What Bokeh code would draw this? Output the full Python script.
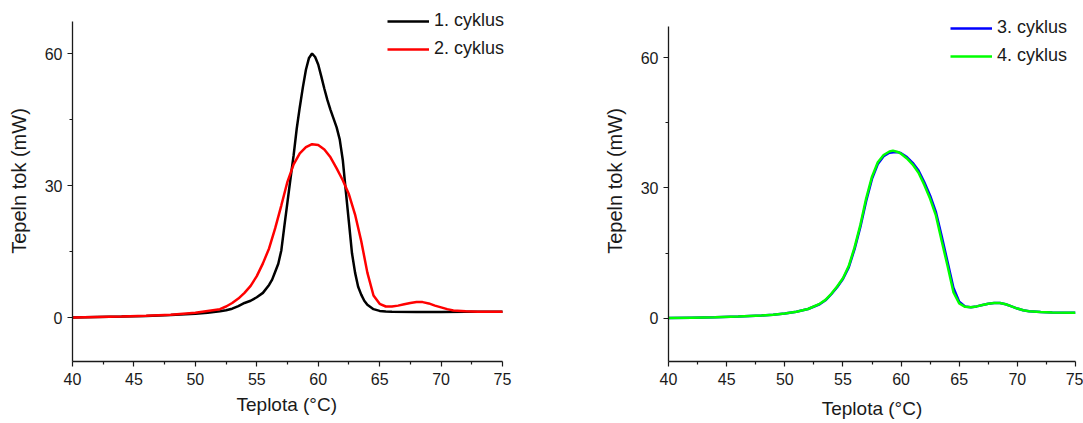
from bokeh.plotting import figure
from bokeh.layouts import row
from bokeh.models import FixedTicker, Legend, LegendItem, Title
from bokeh.embed import file_html
from bokeh.resources import INLINE

# ---------------- data ----------------
t1 = [40, 42, 44, 46, 48, 50, 51, 52, 52.5, 53, 53.5, 54, 54.5, 55, 55.5, 56, 56.25, 56.5, 56.75,
      57, 57.25, 57.5, 57.75, 58, 58.25, 58.5, 58.75, 59, 59.25, 59.5, 59.75, 60, 60.25, 60.5,
      60.75, 61, 61.25, 61.5, 61.75, 62, 62.25, 62.5, 62.75, 63, 63.25, 63.5, 63.75, 64, 64.5,
      65, 65.5, 66, 68, 70, 72, 75]
c1 = [0, 0.1, 0.2, 0.35, 0.55, 0.85, 1.1, 1.4, 1.65, 2.0, 2.6, 3.3, 3.8, 4.6, 5.6, 7.4, 8.6, 10.4,
      12.2, 15.3, 20.9, 26.3, 31.7, 36.9, 42.9, 47.8, 52.3, 56.3, 59.0, 60.0, 59.2, 57.5, 54.8,
      52.0, 49.4, 47.2, 45.2, 43.2, 40.5, 35.8, 28.6, 21.6, 14.6, 10.2, 7.0, 5.2, 3.8, 2.9, 1.9,
      1.5, 1.35, 1.3, 1.25, 1.25, 1.3, 1.3]

t2 = [40, 42, 44, 46, 48, 50, 51, 52, 52.5, 53, 53.5, 54, 54.5, 55, 55.5, 56, 56.5, 57, 57.5, 58,
      58.5, 59, 59.5, 60, 60.5, 61, 61.5, 62, 62.5, 63, 63.5, 64, 64.5, 65, 65.5, 66, 66.5, 67,
      67.5, 68, 68.5, 69, 69.5, 70, 70.5, 71, 72, 73, 75]
c2 = [0, 0.1, 0.2, 0.4, 0.65, 1.1, 1.5, 1.9, 2.5, 3.3, 4.3, 5.6, 7.2, 9.4, 12.3, 15.7, 20.3, 25.5,
      30.9, 34.8, 37.3, 38.7, 39.4, 39.2, 38.2, 36.4, 33.9, 31.2, 28.0, 23.4, 17.4, 10.2, 5.0,
      3.1, 2.5, 2.5, 2.7, 3.0, 3.3, 3.5, 3.5, 3.2, 2.7, 2.3, 1.9, 1.6, 1.4, 1.3, 1.3]

t3 = [40, 42, 44, 46, 48, 49, 50, 51, 52, 53, 53.5, 54, 54.5, 55, 55.5, 56, 56.5, 57, 57.5, 58,
      58.5, 59, 59.5, 59.8, 60, 60.5, 61, 61.5, 62, 62.5, 63, 63.5, 64, 64.5, 65, 65.5, 66, 66.5,
      67, 67.5, 68, 68.5, 69, 69.5, 70, 70.5, 71, 72, 73, 75]
c3 = [0, 0.1, 0.2, 0.35, 0.6, 0.8, 1.05, 1.45, 2.1, 3.2, 4.1, 5.5, 7.1, 9.0, 11.7, 15.9, 21.0,
      27.0, 32.1, 35.5, 37.3, 38.1, 38.3, 38.2, 38.0, 37.1, 35.8, 34.0, 31.3, 28.2, 24.4, 18.8,
      12.9, 7.0, 3.8, 2.7, 2.5, 2.7, 3.0, 3.3, 3.5, 3.5, 3.2, 2.7, 2.2, 1.8, 1.6, 1.4, 1.3, 1.25]

t4 = [40, 42, 44, 46, 48, 49, 50, 51, 52, 53, 53.5, 54, 54.5, 55, 55.5, 56, 56.5, 57, 57.5, 58,
      58.5, 59, 59.3, 59.7, 60, 60.5, 61, 61.5, 62, 62.5, 63, 63.5, 64, 64.5, 65, 65.5, 66, 66.5,
      67, 67.5, 68, 68.5, 69, 69.5, 70, 70.5, 71, 72, 73, 75]
c4 = [0, 0.1, 0.2, 0.35, 0.6, 0.8, 1.05, 1.45, 2.1, 3.3, 4.2, 5.6, 7.3, 9.2, 12.0, 16.3, 21.5,
      27.6, 32.6, 35.9, 37.6, 38.4, 38.6, 38.3, 37.9, 36.8, 35.4, 33.5, 30.7, 27.5, 23.6, 17.7,
      12.0, 6.0, 3.4, 2.6, 2.5, 2.7, 3.0, 3.3, 3.5, 3.5, 3.2, 2.7, 2.2, 1.8, 1.6, 1.4, 1.3, 1.25]

x_major = [40, 45, 50, 55, 60, 65, 70, 75]
x_minor = [42.5, 47.5, 52.5, 57.5, 62.5, 67.5, 72.5]
y_major = [0, 30, 60]
y_minor = [15, 45]
x_label = "Teplota (°C)"
y_label = "Tepeln tok (mW)"

FONT = "Liberation Sans"
AX = "#1a1a1a"


def make_fig(fw, fh, left, right, xtop, ytop, xtitle_offset=None):
    p = figure(frame_width=fw, frame_height=fh, x_range=(40, xtop), y_range=(-10, ytop),
               min_border_left=left, min_border_right=right, min_border_top=0,
               min_border_bottom=62, output_backend="svg", toolbar_location=None,
               background_fill_color="white", border_fill_color="white")
    p.outline_line_color = None
    p.grid.visible = False
    for ax in (p.xaxis[0], p.yaxis[0]):
        ax.axis_line_color = AX
        ax.axis_line_width = 1.3
        ax.major_tick_line_color = AX
        ax.minor_tick_line_color = AX
        ax.major_tick_line_width = 1.2
        ax.minor_tick_line_width = 1.2
        ax.major_tick_in = 0
        ax.major_tick_out = 5
        ax.minor_tick_in = 0
        ax.minor_tick_out = 3
        ax.major_label_text_font = FONT
        ax.major_label_text_font_size = "16px"
        ax.major_label_text_color = AX
        ax.axis_label_text_font = FONT
        ax.axis_label_text_font_style = "normal"
        ax.axis_label_text_color = AX
    p.xaxis[0].axis_label_text_font_size = "19px"
    p.yaxis[0].axis_label_text_font_size = "20px"
    p.yaxis[0].bounds = (-10, 67.3)
    p.xaxis[0].bounds = (40, 75)
    p.xaxis[0].ticker = FixedTicker(ticks=x_major, minor_ticks=x_minor)
    p.yaxis[0].ticker = FixedTicker(ticks=y_major, minor_ticks=y_minor)
    p.yaxis[0].axis_label = y_label
    p.xaxis[0].major_label_standoff = 6
    p.yaxis[0].major_label_standoff = 5
    p.xaxis[0].axis_label_standoff = 10
    p.yaxis[0].axis_label_standoff = 12
    if xtitle_offset is None:
        p.xaxis[0].axis_label = x_label
    else:
        # frame is wider than the axis span: place the axis title as a left-aligned title
        t = Title(text=x_label, align="left", offset=xtitle_offset, standoff=9,
                  text_font=FONT, text_font_size="19px", text_font_style="normal",
                  text_color=AX)
        p.add_layout(t, "below")
    return p


def add_legend(p, items, vx, vy):
    lg = Legend(items=items, location=(vx, vy))
    lg.border_line_alpha = 0
    lg.background_fill_alpha = 0
    lg.padding = 0
    lg.margin = 0
    lg.spacing = 7
    lg.glyph_width = 42
    lg.glyph_height = 20
    lg.label_height = 20
    lg.label_standoff = 5
    lg.label_text_font = FONT
    lg.label_text_font_size = "18px"
    lg.label_text_color = AX
    p.add_layout(lg)


# left panel: axis spans 40..75 over 430 px; frame widened to 468 px so the legend fits
p1 = make_fig(468, 361, 72, 20, 40 + 468 * 35 / 430, 72.05, xtitle_offset=164)
r1 = p1.line(t1, c1, line_color="black", line_width=2.5)
r2 = p1.line(t2, c2, line_color="#ff0000", line_width=2.5)
add_legend(p1, [LegendItem(label="1. cyklus", renderers=[r1]),
                LegendItem(label="2. cyklus", renderers=[r2])], 315, 302)

p2 = make_fig(407, 361, 108, 8, 75, 73.2)
r3 = p2.line(t3, c3, line_color="#0000ff", line_width=2.5)
r4 = p2.line(t4, c4, line_color="#00ff00", line_width=2.5)
add_legend(p2, [LegendItem(label="3. cyklus", renderers=[r3]),
                LegendItem(label="4. cyklus", renderers=[r4])], 282, 295)

layout = row(p1, p2)
open("out.html", "w").write(file_html(layout, INLINE))
